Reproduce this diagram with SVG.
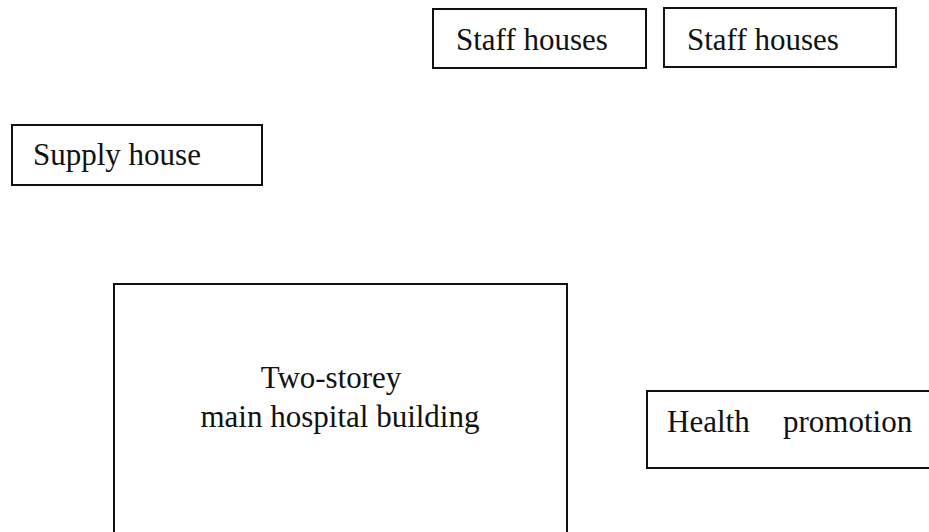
<svg xmlns="http://www.w3.org/2000/svg" width="929" height="532" viewBox="0 0 929 532">
  <style>
    .box { fill: #ffffff; stroke: #111111; stroke-width: 2; }
    .label { font-family: "Liberation Serif", "Times New Roman", serif; font-size: 31px; fill: #111111; }
  </style>
  <rect x="0" y="0" width="929" height="532" fill="#ffffff"/>

  <g id="staff-houses-1">
    <rect class="box" x="433" y="9" width="213" height="59"/>
    <text class="label" x="456" y="50">Staff houses</text>
  </g>

  <g id="staff-houses-2">
    <rect class="box" x="664" y="8" width="232" height="59"/>
    <text class="label" x="687" y="50">Staff houses</text>
  </g>

  <g id="supply-house">
    <rect class="box" x="12" y="125" width="250" height="60"/>
    <text class="label" x="33" y="165">Supply house</text>
  </g>

  <g id="main-building">
    <rect class="box" x="114" y="284" width="453" height="260"/>
    <text class="label" x="331" y="388" text-anchor="middle">Two-storey</text>
    <text class="label" x="340" y="427" text-anchor="middle">main hospital building</text>
  </g>

  <g id="health-promotion">
    <rect class="box" x="647" y="391" width="300" height="77"/>
    <text class="label" x="667" y="432">Health</text>
    <text class="label" x="783" y="432">promotion</text>
  </g>

  <g id="connectors"></g>
</svg>
